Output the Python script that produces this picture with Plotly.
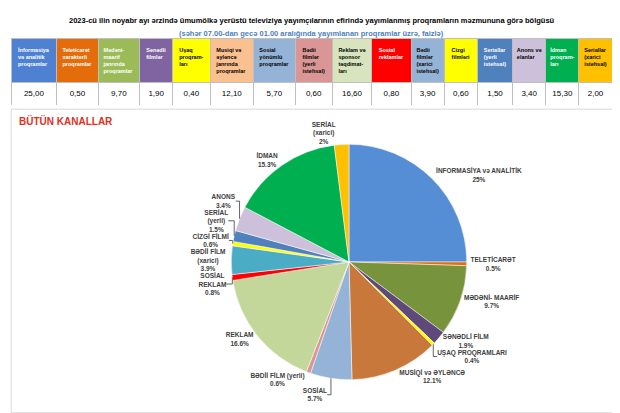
import plotly.graph_objects as go

headers = ["<b>İnformasiya<br>və analitik<br>proqramlar</b>", "<b>Teleticarət<br>xarakterli<br>proqramlar</b>", "<b>Mədəni-<br>maarif<br>janrında<br>proqramlar</b>",
           "<b>Sənədli<br>filmlər</b>", "<b>Uşaq<br>proqram-<br>ları</b>", "<b>Musiqi və<br>əyləncə<br>janrında<br>proqramlar</b>", "<b>Sosial<br>yönümlü<br>proqramlar</b>",
           "<b>Bədii<br>filmlər<br>(yerli<br>istehsal)</b>", "<b>Reklam və<br>sponsor<br>təqdimat-<br>ları</b>", "<b>Sosial<br>reklamlar</b>",
           "<b>Bədii<br>filmlər<br>(xarici<br>istehsal)</b>", "<b>Cizgi<br>filmləri</b>", "<b>Seriallar<br>(yerli<br>istehsal)</b>", "<b>Anons və<br>elanlar</b>",
           "<b>İdman<br>proqram-<br>ları</b>", "<b>Seriallar<br>(xarici<br>istehsal)</b>"]
values = [25.0, 0.5, 9.7, 1.9, 0.4, 12.1, 5.7, 0.6, 16.6, 0.8, 3.9, 0.6, 1.5, 3.4, 15.3, 2.0]
pie_labels = ["İNFORMASİYA və ANALİTİK", "TELETİCARƏT", "MƏDƏNİ- MAARİF", "SƏNƏDLİ FİLM", "UŞAQ PROQRAMLARI",
              "MUSİQİ və ƏYLƏNCƏ", "SOSİAL", "BƏDİİ FİLM (yerli)", "REKLAM", "SOSİAL<br>REKLAM",
              "BƏDİİ FİLM<br>(xarici)", "CİZGİ FİLMİ", "SERİAL<br>(yerli)", "ANONS", "İDMAN", "SERİAL<br>(xarici)"]
pie_pct = ["25%", "0.5%", "9.7%", "1.9%", "0.4%", "12.1%", "5.7%", "0.6%", "16.6%", "0.8%", "3.9%", "0.6%", "1.5%", "3.4%", "15.3%", "2%"]

head_colors = ["#4F81D3", "#E46C0A", "#9BBB59", "#8064A2", "#FFFF00", "#FAC090", "#95B3D7", "#D99694", "#D7E4BD", "#FF0000",
               "#95B3D7", "#FFFF00", "#4F81BD", "#CCC0DA", "#00B050", "#FFC000"]
head_font = ["white", "white", "white", "white", "black", "black", "black", "black", "black", "white",
             "black", "black", "white", "black", "white", "black"]
pie_colors = ["#558ED5", "#E46C0A", "#77933C", "#5F497A", "#FFFF00", "#C8783A", "#95B3D7", "#D99694", "#C4D79B", "#FF0000",
              "#4BACC6", "#FFFF00", "#4F81BD", "#CCC0DA", "#00B050", "#FFC000"]

fig = go.Figure()
fig.add_trace(go.Table(
    domain=dict(x=[0.005, 0.975], y=[0.765, 0.925]),
    columnwidth=[1.1, 1, 1, 0.8, 0.9, 1.05, 1, 0.9, 0.95, 0.95, 0.8, 0.8, 0.85, 0.8, 0.8, 0.8],
    header=dict(values=headers, fill_color=head_colors, font=dict(color=head_font, size=5.5, family="Liberation Sans"),
                align=["center"] * 16, height=38, line_color="#BFBFBF"),
    cells=dict(values=[[f"{v:.2f}".replace(".", ",")] for v in values], fill_color="white",
               font=dict(color="black", size=8, family="Liberation Sans"), align=["center"] * 16, height=26, line_color="#BFBFBF"),
))
fig.add_trace(go.Pie(
    labels=pie_labels, values=values, customdata=pie_pct, sort=False, direction="clockwise", rotation=0,
    marker=dict(colors=pie_colors, line=dict(color="white", width=0.5)),
    texttemplate="<b>%{label}<br>%{customdata}</b>", textposition="outside", automargin=False,
    textfont=dict(size=6.5, color="#404040", family="Liberation Sans"),
    domain=dict(x=[0.2, 0.9], y=[0.1, 0.67]), showlegend=False, hole=0,
))
fig.add_shape(type="rect", xref="paper", yref="paper", x0=0.005, x1=0.98, y0=0.02, y1=0.755,
              line=dict(color="#D9D9D9", width=1))
fig.add_annotation(text="<b>2023-cü ilin noyabr ayı ərzində ümumölkə yerüstü televiziya yayımçılarının efirində yayımlanmış proqramların məzmununa görə bölgüsü</b>",
                   x=0.49, y=0.985, xref="paper", yref="paper", showarrow=False, font=dict(size=7.5, color="black", family="Liberation Sans"))
fig.add_annotation(text="<b>(səhər 07.00-dan gecə 01.00 aralığında yayımlanan proqramlar üzrə, faizlə)</b>",
                   x=0.49, y=0.955, xref="paper", yref="paper", showarrow=False, font=dict(size=7.5, color="#4F81BD", family="Liberation Sans"))
fig.add_annotation(text="<b>BÜTÜN KANALLAR</b>", x=0.015, y=0.745, xref="paper", yref="paper", xanchor="left", yanchor="top",
                   showarrow=False, font=dict(size=10, color="#E0301E", family="Liberation Sans"))
fig.update_layout(width=620, height=413, margin=dict(l=0, r=0, t=0, b=0, autoexpand=False), paper_bgcolor="white")
fig.write_html("out.html")
